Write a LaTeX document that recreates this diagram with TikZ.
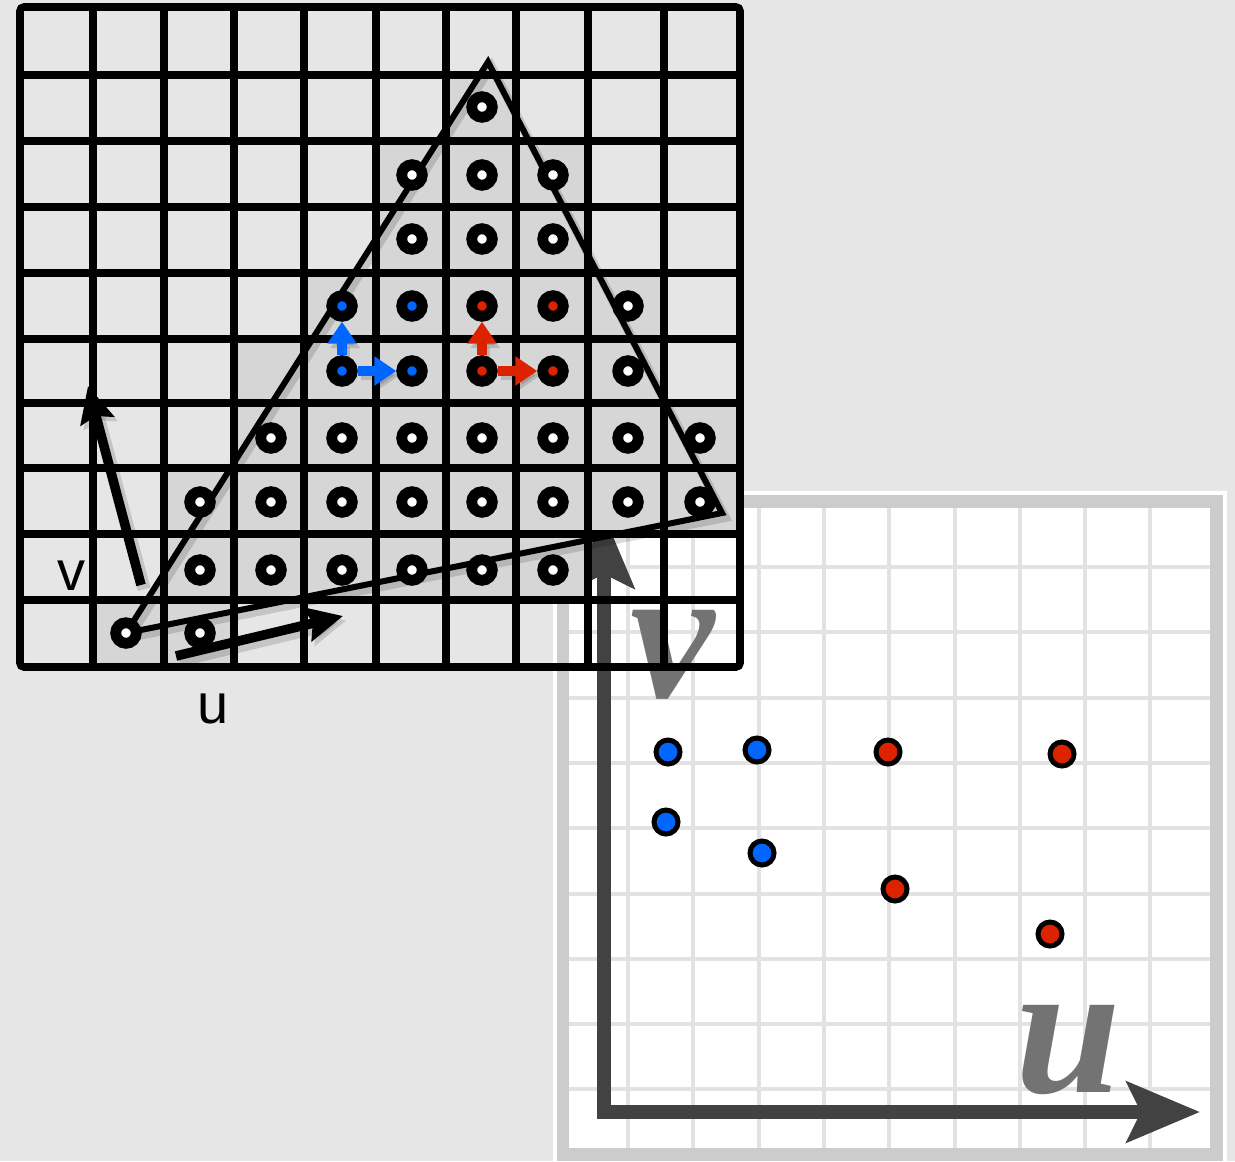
\documentclass[tikz,border=0pt]{standalone}
\usepackage{fontspec}
\newfontfamily\labelfont{Liberation Sans}
\newfontfamily\axisfont{Liberation Serif}
\usetikzlibrary{arrows.meta}
\definecolor{bggray}{HTML}{E6E6E6}
\definecolor{cellgray}{HTML}{D6D6D6}
\definecolor{framegray}{HTML}{CCCCCC}
\definecolor{uvline}{HTML}{E2E2E2}
\definecolor{axisgray}{HTML}{424242}
\definecolor{lettergray}{HTML}{737373}
\definecolor{pixblue}{HTML}{0066FF}
\definecolor{pixred}{HTML}{DD2200}
\tikzset{
  pix/.style={circle,draw=black,fill=white,line width=5.4pt,minimum size=10.3pt,inner sep=0pt},
  texel/.style={circle,draw=black,line width=2.5pt,minimum size=12pt,inner sep=0pt},
  gridline/.style={black,line width=3.8pt},
  uvgrid/.style={uvline,line width=2pt},
  softshadow/.style={preaction={draw=black,opacity=.14,line width=#1,transform canvas={shift={(1.6pt,-2.2pt)}}}},
  bigarrow/.style={black,line width=4.8pt,-{Stealth[length=18pt,width=17pt,inset=2.5pt]},softshadow=6.5pt},
  steparrow/.style={line width=5pt,-{Triangle[length=11pt,width=14pt]},softshadow=5pt},
  axisarrow/.style={axisgray,line width=7pt,{Stealth[length=36.5pt,width=30pt,inset=7pt]}-{Stealth[length=36.5pt,width=30pt,inset=7pt]}},
  bigletter/.style={lettergray,font=\axisfont\bfseries\itshape\fontsize{95}{95}\selectfont,inner sep=0pt},
  smallletter/.style={black,font=\labelfont\fontsize{28}{28}\selectfont,inner sep=0pt}
}
\begin{document}
\begin{tikzpicture}[x=0.5pt,y=-0.5pt]
\useasboundingbox (0,0) rectangle (1235,1161);
\fill[bggray] (0,0) rectangle (1235,1161);
\fill[white] (553,491) rectangle (1227,1165);
\fill[framegray] (557,495) rectangle (1223,1161);
\fill[white] (569,508) rectangle (1210,1148);
\foreach \k in {0,...,8}{
  \draw[uvgrid] ({628+65.3*\k},508) -- ({628+65.3*\k},1148);
  \draw[uvgrid] (569,{567+65.3*\k}) -- (1210,{567+65.3*\k});
}
\coordinate (vend) at (604,515);
\coordinate (origin) at (604,1112);
\coordinate (uend) at (1200,1112);
\draw[axisarrow] (vend) -- (origin) -- (uend);
\node[bigletter] (vname) at (673,655) {v};
\node[bigletter] (uname) at (1068,1050) {u};
\node[texel,fill=pixblue] (t1) at (668,752) {};
\node[texel,fill=pixblue] (t2) at (757,750) {};
\node[texel,fill=pixblue] (t3) at (666,822) {};
\node[texel,fill=pixblue] (t4) at (762,853) {};
\node[texel,fill=pixred] (t5) at (888,752) {};
\node[texel,fill=pixred] (t6) at (1062,754) {};
\node[texel,fill=pixred] (t7) at (895,889) {};
\node[texel,fill=pixred] (t8) at (1050,934) {};
\foreach \i/\x in {0/20,1/93,2/164,3/234,4/304,5/376,6/446,7/516,8/588,9/664,10/740}
  \foreach \j/\y in {0/7,1/75,2/141,3/207,4/273,5/339,6/403,7/468,8/534,9/600,10/667}
    \coordinate (k-\j-\i) at (\x,\y);
\foreach \r/\a/\b [evaluate=\r as \rr using int(\r+1), evaluate=\b as \bb using int(\b+1)] in {1/6/6,2/5/7,3/5/7,4/4/8,5/3/8,6/3/9,7/2/9,8/2/7,9/1/2}
  \fill[cellgray] (k-\r-\a) rectangle (k-\rr-\bb);
\foreach \i in {1,...,9}{
  \draw[gridline] (k-0-\i) -- (k-10-\i);
  \draw[gridline] (k-\i-0) -- (k-\i-10);
}
\draw[gridline,rounded corners=2pt] (k-0-0) rectangle (k-10-10);
\foreach \c/\x in {1/126,2/200,3/271,4/342,5/412,6/482,7/553,8/628,9/700}
  \foreach \r/\y in {1/107,2/175,3/239,4/306,5/371,6/438,7/502,8/570,9/633}
    \coordinate (g\r\c) at (\x,\y);
\coordinate (apex) at (488,62);
\coordinate (corner) at (722,513);
\draw[black,line width=3pt,softshadow=4.5pt] (g91) -- (apex) -- (corner) -- cycle;
\foreach \rc in {16,25,26,27,35,36,37,48,58,63,64,65,66,67,68,69,72,73,74,75,76,77,78,79,82,83,84,85,86,87,91,92}
  \node[pix] (p\rc) at (g\rc) {};
\foreach \rc in {44,45,54,55}
  \node[pix,fill=pixblue] (p\rc) at (g\rc) {};
\foreach \rc in {46,47,56,57}
  \node[pix,fill=pixred] (p\rc) at (g\rc) {};
\draw[steparrow,pixblue] (p54) -- (p44);
\draw[steparrow,pixblue] (p54) -- (p55);
\draw[steparrow,pixred] (p56) -- (p46);
\draw[steparrow,pixred] (p56) -- (p57);
\coordinate (vtail) at (141,585);
\coordinate (vtip) at (88,386);
\coordinate (utail) at (176,656);
\coordinate (utip) at (343,616);
\draw[bigarrow] (vtail) -- (vtip);
\draw[bigarrow] (utail) -- (utip);
\node[smallletter] (vlabel) at (71,576) {v};
\node[smallletter] (ulabel) at (213,709) {u};
\end{tikzpicture}
\end{document}
